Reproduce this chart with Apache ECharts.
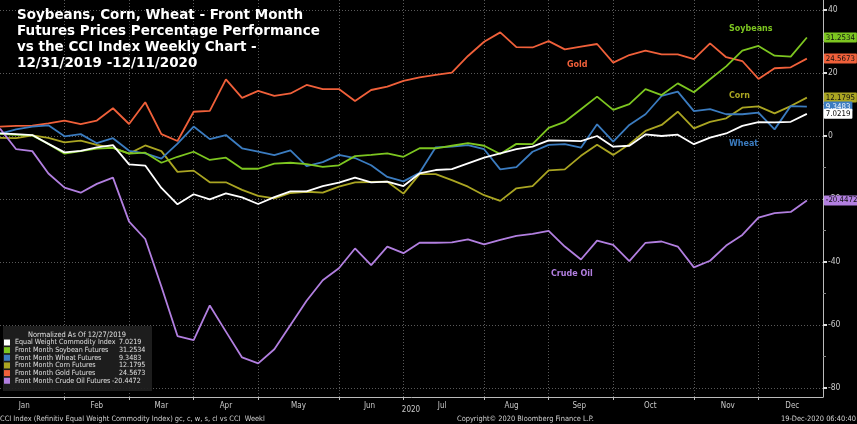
<!DOCTYPE html>
<html><head><meta charset="utf-8">
<script src="https://cdn.jsdelivr.net/npm/echarts@6/dist/echarts.min.js"></script>
<style>html,body{margin:0;padding:0;background:#000}#c{width:857px;height:424px}</style>
</head><body><div id="c"></div>
<script>
// weekly Friday dates (last one has no data)
const categories = [
 '2020-01-03','2020-01-10','2020-01-17','2020-01-24','2020-01-31',
 '2020-02-07','2020-02-14','2020-02-21','2020-02-28',
 '2020-03-06','2020-03-13','2020-03-20','2020-03-27',
 '2020-04-03','2020-04-10','2020-04-17','2020-04-24',
 '2020-05-01','2020-05-08','2020-05-15','2020-05-22','2020-05-29',
 '2020-06-05','2020-06-12','2020-06-19','2020-06-26',
 '2020-07-03','2020-07-10','2020-07-17','2020-07-24','2020-07-31',
 '2020-08-07','2020-08-14','2020-08-21','2020-08-28',
 '2020-09-04','2020-09-11','2020-09-18','2020-09-25',
 '2020-10-02','2020-10-09','2020-10-16','2020-10-23','2020-10-30',
 '2020-11-06','2020-11-13','2020-11-20','2020-11-27',
 '2020-12-04','2020-12-11','2020-12-18','2020-12-25'
];
const cci = [0.8,0.6,0.3,-2.5,-5.2,-4.7,-3.6,-2.9,-9.0,-9.4,-16.5,-21.7,-18.5,-20.1,-18.2,-19.5,-21.6,-19.4,-17.6,-17.6,-15.9,-14.8,-13.2,-14.7,-14.5,-15.9,-11.9,-10.8,-10.5,-8.7,-6.9,-5.5,-4.2,-3.4,-1.4,-1.5,-1.6,0.0,-3.4,-3.1,0.5,0.0,0.4,-2.6,-0.5,0.8,3.2,4.4,4.3,4.5,7.0219];
const soybeans = [0.7,0.4,0.2,-2.5,-5.6,-4.8,-4.0,-3.8,-5.6,-5.3,-8.5,-6.6,-5.0,-7.6,-6.9,-10.4,-10.4,-8.8,-8.5,-8.9,-9.8,-9.3,-6.4,-6.0,-5.5,-6.6,-3.9,-3.9,-3.1,-2.3,-3.1,-5.7,-2.5,-2.6,2.6,4.5,8.5,12.5,8.3,10.1,14.9,13.0,16.7,13.9,18.0,22.1,27.1,28.6,25.5,25.2,31.2534];
const wheat = [0.7,2.1,3.0,3.4,-0.1,0.6,-2.3,-0.7,-4.7,-5.5,-7.2,-2.4,3.0,-1.0,0.3,-3.9,-5.0,-6.1,-4.6,-9.6,-8.3,-6.0,-7.0,-9.3,-13.0,-14.4,-11.7,-3.6,-3.4,-2.9,-4.2,-10.6,-9.9,-5.0,-2.8,-2.6,-3.7,3.7,-1.8,3.5,6.9,12.7,14.1,7.9,8.5,6.9,6.9,7.4,2.1,9.5,9.3483];
const corn = [-0.6,-0.7,0.2,-0.6,-2.0,-1.5,-2.8,-3.8,-5.6,-3.0,-4.8,-11.4,-11.0,-14.7,-14.7,-17.1,-19.0,-19.8,-18.1,-17.7,-18.0,-16.1,-14.7,-14.6,-14.5,-18.3,-12.1,-12.1,-14.0,-16.1,-18.8,-20.6,-16.6,-15.9,-10.9,-10.6,-6.3,-2.8,-6.0,-2.6,1.6,3.5,7.7,2.4,4.5,5.6,9.0,9.4,7.2,9.5,12.1795];
const gold = [3.0,3.2,3.3,4.0,4.9,3.8,4.9,8.8,3.8,10.7,0.6,-1.6,7.7,8.0,18.0,12.1,14.3,12.7,13.5,16.2,14.9,14.9,11.1,14.6,15.7,17.5,18.6,19.4,20.1,25.4,29.9,32.9,28.2,28.1,30.1,27.5,28.4,29.2,23.3,25.7,27.1,25.9,25.9,24.4,29.4,25.0,23.8,18.1,21.5,21.8,24.5673];
const crude = [2.4,-4.2,-4.8,-11.9,-16.4,-18.0,-15.2,-13.2,-27.2,-32.7,-47.8,-63.5,-64.8,-53.8,-62.1,-70.3,-72.2,-67.7,-60.0,-52.3,-45.8,-42.0,-35.7,-41.0,-35.1,-37.2,-33.9,-33.9,-33.8,-32.8,-34.4,-33.0,-31.7,-31.1,-30.1,-35.1,-39.2,-33.2,-34.6,-39.7,-33.9,-33.5,-35.1,-41.7,-39.6,-34.8,-31.4,-25.9,-24.5,-24.1,-20.4472];

const monthLabels = ['Jan','Feb','Mar','Apr','May','Jun','Jul','Aug','Sep','Oct','Nov','Dec'];
const monthLabelPos = [1.5,6,10,14,18.5,22.9,27.4,31.7,35.9,40.3,45.1,49.1];
const yMajorTicks = [-80,-60,-40,-20,0,20,40];
const yMinorTicks = [-70,-50,-30,-10,10,30];

const NARROW = "'Liberation Sans Narrow','DejaVu Sans Condensed','Roboto',sans-serif";

const seriesDefs = [
  {name:'Front Month Gold Futures', data:gold, color:'#f0603a', text:'#111'},
  {name:'Front Month Corn Futures', data:corn, color:'#aaa522', text:'#111'},
  {name:'Front Month Wheat Futures', data:wheat, color:'#3b7cc0', text:'#fff'},
  {name:'Front Month Soybean Futures', data:soybeans, color:'#7dc620', text:'#111'},
  {name:'Front Month Crude Oil Futures', data:crude, color:'#b27fe0', text:'#111'},
  {name:'Equal Weight Commodity Index', data:cci, color:'#ffffff', text:'#000'}
];
const legendOrder = ['Equal Weight Commodity Index','Front Month Soybean Futures','Front Month Wheat Futures','Front Month Corn Futures','Front Month Gold Futures','Front Month Crude Oil Futures'];
const lastVal = {};
seriesDefs.forEach(s => { lastVal[s.name] = s.data[s.data.length-1]; });

const annotations = [
  {text:'Soybeans', x:729, y:29, color:'#7dc620'},
  {text:'Gold', x:567, y:65, color:'#f0603a'},
  {text:'Corn', x:729, y:96, color:'#aaa522'},
  {text:'Wheat', x:729, y:144, color:'#3b7cc0'},
  {text:'Crude Oil', x:551, y:274, color:'#b27fe0'}
];

const isMonthEnd = (i) => i < categories.length-1 && categories[i].slice(5,7) !== categories[i+1].slice(5,7);

const chart = echarts.init(document.getElementById('c'), null, {renderer:'canvas'});
const option = {
  backgroundColor:'#000',
  animation:false,
  title:{
    text:'Soybeans, Corn, Wheat - Front Month\nFutures Prices Percentage Performance\nvs the CCI Index Weekly Chart -\n12/31/2019 -12/11/2020',
    left:17, top:7, padding:0,
    textStyle:{color:'#fff', fontSize:13.5, fontWeight:'bold', lineHeight:16, fontFamily:"'DejaVu Sans',sans-serif"}
  },
  grid:{left:0, right:34, top:0, bottom:27, containLabel:false},
  xAxis:[{
    type:'category', data:categories, boundaryGap:false,
    axisLine:{show:true, onZero:false, lineStyle:{color:'#bbb', width:1}},
    axisTick:{show:true, interval:(i)=>isMonthEnd(i), length:3, lineStyle:{color:'#bbb'}},
    axisLabel:{show:false},
    splitLine:{show:true, interval:(i)=>isMonthEnd(i), lineStyle:{color:'#5a5a5a', type:[1,2], width:1}}
  },{
    type:'value', min:0, max:categories.length-1, position:'bottom',
    axisLine:{show:false, onZero:false}, axisTick:{show:false}, splitLine:{show:false},
    axisLabel:{show:true, customValues:monthLabelPos, margin:5,
      formatter:(v)=>{const k=monthLabelPos.indexOf(v); return k>=0?monthLabels[k]:'';},
      color:'#c8c8c8', fontSize:8, fontFamily:NARROW}
  }],
  yAxis:[{
    type:'value', position:'right', min:-82.86, max:43.17,
    axisLine:{show:true, onZero:false, lineStyle:{color:'#bbb', width:1}},
    axisTick:{show:true, customValues:yMajorTicks, length:4, lineStyle:{color:'#ddd', width:2}},
    axisLabel:{show:true, customValues:yMajorTicks, margin:5, color:'#c8c8c8', fontSize:8.5, fontFamily:NARROW},
    splitLine:{show:true, lineStyle:{color:'#5a5a5a', type:[1,2], width:1}}
  },{
    type:'value', position:'right', min:-82.86, max:43.17,
    axisLine:{show:false, onZero:false},
    axisTick:{show:true, customValues:yMinorTicks, length:3, lineStyle:{color:'#888', width:1}},
    axisLabel:{show:false}, splitLine:{show:false}
  }],
  legend:{
    show:true, data:legendOrder, orient:'vertical', left:4, top:339,
    itemWidth:6, itemHeight:6, itemGap:0.65, icon:'rect', z:10,
    selectedMode:false, padding:0,
    textStyle:{color:'#e0e0e0', fontSize:7.1, fontFamily:NARROW,
      rich:{n:{width:104, fontSize:7.1, lineHeight:8, fontFamily:NARROW, color:'#e0e0e0'},
            m:{width:97, fontSize:7.1, lineHeight:8, fontFamily:NARROW, color:'#e0e0e0'},
            v:{fontSize:7.1, lineHeight:8, fontFamily:NARROW, color:'#e0e0e0'}}},
    formatter:(name)=>{const v=lastVal[name]; return (v<0?'{m|':'{n|')+name+'}{v|'+v.toFixed(4)+'}';}
  },
  graphic:[
    {type:'rect', shape:{x:3, y:326, width:149, height:65}, style:{fill:'rgba(32,32,32,0.92)'}, z:3},
    {type:'text', x:77, y:335, z:11, style:{text:'Normalized As Of 12/27/2019', fill:'#e0e0e0', font:"7.4px "+NARROW, textAlign:'center', textVerticalAlign:'middle'}},
    {type:'text', x:411, y:410, style:{text:'2020', fill:'#c8c8c8', font:"8px "+NARROW, textAlign:'center', textVerticalAlign:'middle'}},
    {type:'text', x:0, y:419, style:{text:'CCI Index (Refinitiv Equal Weight Commodity Index) gc, c, w, s, cl vs CCI  Weekl', fill:'#d0d0d0', font:"7.4px "+NARROW, textAlign:'left', textVerticalAlign:'middle'}},
    {type:'text', x:457, y:419, style:{text:'Copyright\u00a9 2020 Bloomberg Finance L.P.', fill:'#d0d0d0', font:"7.4px "+NARROW, textAlign:'left', textVerticalAlign:'middle'}},
    {type:'text', x:856, y:419, style:{text:'19-Dec-2020 06:40:40', fill:'#d0d0d0', font:"7.4px "+NARROW, textAlign:'right', textVerticalAlign:'middle'}}
  ].concat(annotations.map(a=>({type:'text', x:a.x, y:a.y, style:{text:a.text, fill:a.color, font:"bold 8px 'DejaVu Sans',sans-serif", textAlign:'left', textVerticalAlign:'middle'}}))),
  series: seriesDefs.map(s=>({
    name:s.name, type:'line', data:s.data, symbol:'none', xAxisIndex:0, yAxisIndex:0,
    lineStyle:{color:s.color, width:1.8}, itemStyle:{color:s.color},
    endLabel:{show:true, formatter:(p)=>Number(p.value).toFixed(4), backgroundColor:s.color, color:s.text,
      fontSize:7.8, fontFamily:NARROW, padding:[1.5,2,0.5,2], distance:17, borderRadius:1},
    emphasis:{disabled:true}
  }))
};
chart.setOption(option);
</script></body></html>
